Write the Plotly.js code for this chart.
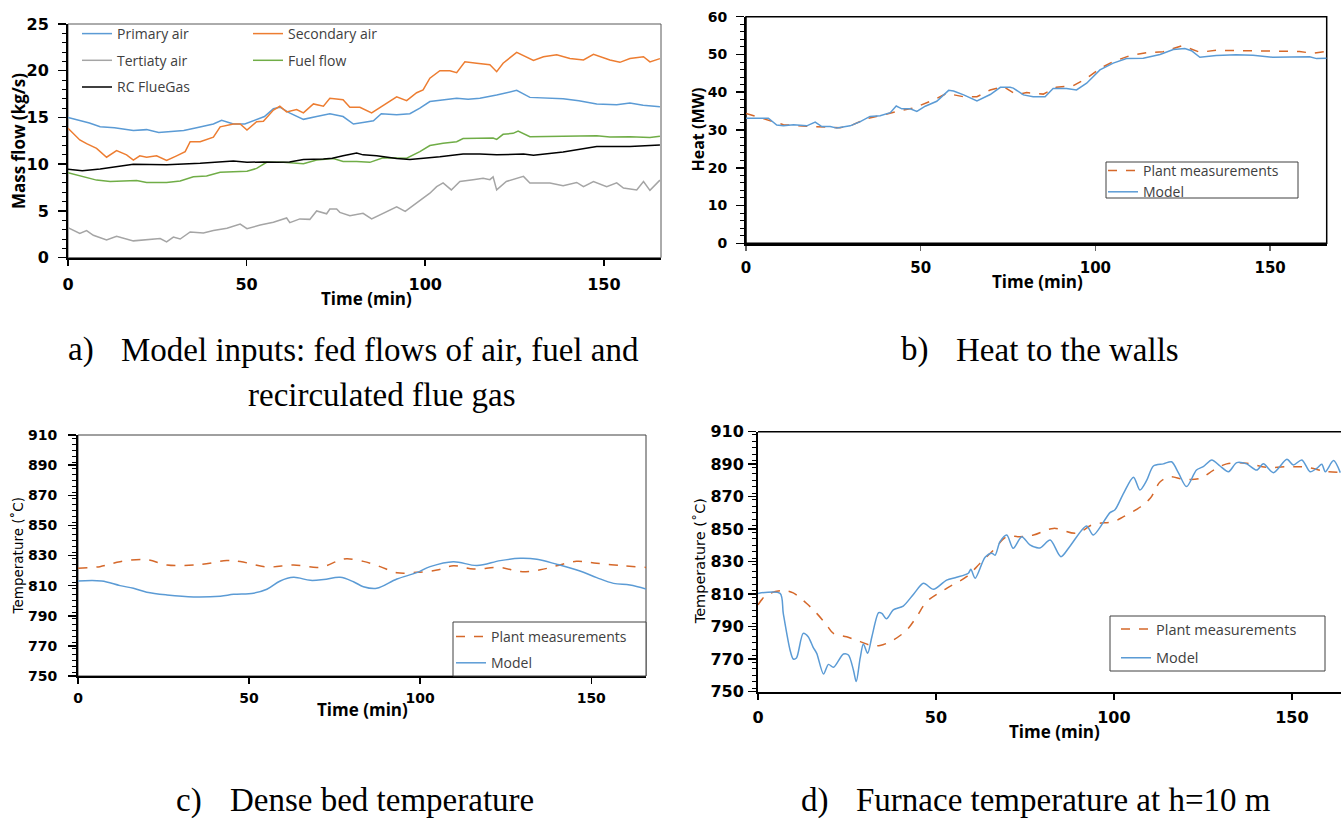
<!DOCTYPE html>
<html><head><meta charset="utf-8">
<script src="https://cdn.plot.ly/plotly-3.0.1.min.js"></script>
<style>html,body{margin:0;padding:0;background:#fff}#chart{width:1341px;height:820px}</style>
</head><body><div id="chart"></div>
<script>
// ---------- Panel a: model inputs (kg/s) ----------
const tPrimary = [0,3,6,9,13,18.3,22,25.4,28,32.4,36,40.7,43,46.3,49.5,52.8,55,57.5,59.3,62,65.9,69.6,73.3,77,79.9,83,85.5,87.7,92,95.7,98.5,101.3,105,108.8,112,115.3,120,123,125.6,129.3,134,138.6,143,148,153.6,157.3,161,165.7];
const primaryAir = [15.0,14.7,14.4,14.0,13.9,13.6,13.7,13.4,13.5,13.6,13.9,14.3,14.7,14.3,14.3,14.75,15.1,15.95,16.1,15.5,14.8,15.1,15.4,15.1,14.3,14.5,14.65,15.4,15.3,15.4,16.0,16.7,16.9,17.05,16.95,17.05,17.4,17.7,17.9,17.15,17.05,17.0,16.8,16.45,16.35,16.55,16.3,16.15];
const tSecondary = [0,3.3,5.2,8,10.8,13.6,16.4,18.3,20.1,22,24.8,27.6,30.4,32.8,34.2,37,40.7,42.6,46.3,48.2,50.1,52.8,54.7,57.5,59.3,61.2,64,65.9,68.7,71.5,73.3,77,78.9,81.7,85,88.2,92,94.8,97.6,99.4,101.3,104.1,106.9,108.8,111.1,114.4,118.1,120,121.8,125.6,128.4,130.3,133.1,136.8,140.5,144.3,147.1,151.7,154.5,157.3,161.1,162.9,165.7];
const secondaryAir = [13.85,12.6,12.2,11.7,10.75,11.45,11.0,10.45,10.9,10.75,10.9,10.4,10.9,11.35,12.4,12.4,12.9,14.0,14.3,14.3,13.65,14.55,14.6,15.8,16.2,15.6,15.85,15.5,16.45,16.2,17.05,16.9,16.1,16.1,15.5,16.3,17.2,16.8,17.65,17.95,19.2,20.0,20.0,19.8,20.95,20.8,20.65,19.9,20.8,21.97,21.5,21.1,21.5,21.7,21.3,21.15,21.75,21.15,20.9,21.3,21.5,20.95,21.3];
const tTertiary = [0,3.3,5.2,7.1,10.8,13.6,18.3,22,25.8,27.6,29.5,31.4,34.2,37.9,40.7,44.5,46.3,48.2,50.1,53.8,57.5,61.2,62.1,64.9,67.7,69.6,72.4,73.3,75.2,76.1,78.9,82.6,85,87.3,92,94.4,97.6,101.3,103.2,105,107.3,109.7,113.4,116.2,118.1,119,120,122.7,127.5,129.3,134.9,138.6,142.4,144.3,147.1,150.8,153.6,155.5,159.2,161.1,162.9,165.7];
const tertiaryAir = [3.2,2.6,2.9,2.4,1.9,2.3,1.8,1.95,2.05,1.7,2.2,2.0,2.75,2.65,2.9,3.15,3.35,3.6,3.1,3.5,3.8,4.25,3.75,4.15,4.1,5.0,4.7,5.2,5.2,4.85,4.5,4.75,4.15,4.6,5.45,4.95,5.85,6.9,7.6,8.0,7.25,8.15,8.35,8.5,8.35,8.65,7.25,8.15,8.7,8.0,8.0,7.7,8.05,7.6,8.15,7.6,8.0,7.45,7.25,8.15,7.2,8.3];
const tFuel = [0,4,8,11.8,19.2,22,27.6,31.4,35.1,38.8,42.6,46.3,50.1,52.8,55.6,60.3,65.9,69.6,74.3,77,80.8,84.5,88.2,94.8,98.5,101.3,105,108.8,110.6,119,120,121.8,124.6,126,129.3,138.6,148,151.7,157.3,162.9,165.7];
const fuelFlow = [9.1,8.7,8.3,8.15,8.25,8.05,8.05,8.2,8.65,8.75,9.15,9.2,9.25,9.55,10.2,10.2,10.05,10.45,10.6,10.3,10.3,10.2,10.7,10.65,11.35,12.0,12.25,12.4,12.75,12.8,12.65,13.2,13.3,13.55,12.95,13.0,13.05,12.9,12.95,12.85,13.0];
const tFlueGas = [0,4,9,14.6,18.3,27.6,37,46.3,50.1,54.7,58.5,62,65.9,71.5,74,77,80.8,82.6,86.4,92,95.7,104.1,110.6,115.3,120,127.5,130.3,138.6,148,157.3,165.7];
const rcFlueGas = [9.45,9.3,9.5,9.8,10.0,9.95,10.1,10.35,10.2,10.25,10.2,10.25,10.5,10.55,10.65,10.9,11.2,11.0,10.9,10.6,10.5,10.8,11.1,11.1,11.0,11.1,10.95,11.3,11.9,11.9,12.05];

// ---------- Panel b: heat to the walls (MW) ----------
const tHeatModel = [0,6.4,8.8,10.7,13.6,17.4,19.8,21.7,24.1,26,29.8,32.7,35.5,38.4,41.3,43,44.6,47,48.9,51.3,54.6,58,59.4,62.3,66.1,68,69.9,72.8,75.6,76.5,79.4,82.2,85.6,87.9,91.7,94.6,97.5,101.3,105.1,108.9,113.7,118.5,122.3,125.6,127.5,129.9,134.6,140.3,145.1,150.8,156.5,161.3,163.3,166.2];
const heatModel = [33.1,33.1,31.3,31.1,31.4,31.1,32.1,30.9,30.9,30.5,31.1,32.2,33.6,33.8,34.6,36.35,35.6,35.6,34.9,36.3,37.6,40.5,40.3,39.3,37.7,38.5,39.4,41.3,41.3,41.1,39.3,38.8,38.8,41.0,41.0,40.6,42.4,45.9,47.7,48.9,49.0,50.0,51.3,51.6,51.0,49.25,49.75,49.9,49.8,49.25,49.4,49.4,48.9,49.0];
const tHeatPlant = [0,6.4,10.7,17.4,23.1,26.9,29.8,34.5,38.4,43.1,47.9,53.6,57.4,62.3,66.1,69.9,73.7,77.5,80.3,85.1,88.8,93.6,97.5,101.3,105.1,109.9,114.7,119.4,122.3,124.7,127,129.9,134.6,144.1,153.7,158.4,162.2,166.2];
const heatPlant = [34.4,32.6,31.4,31.0,30.7,30.6,31.1,33.0,33.8,34.9,35.8,37.9,39.7,38.8,38.8,40.6,41.5,39.3,39.9,39.5,41.3,41.7,43.7,46.3,48.1,49.7,50.5,50.7,51.6,52.3,51.6,50.6,51.1,51.0,50.9,50.8,50.3,50.8];

// ---------- Panel c: dense bed temperature (°C) ----------
const tBedModel = [0,6.9,12.3,16.2,20.1,26,33.8,41.6,45.5,51.3,55.2,59.1,63,67.9,71.8,76.6,80.5,83.4,87.3,93.2,99,102.9,109.7,116.6,123.4,129.2,134.1,139.9,146.7,151.6,156.5,161.3,166];
const bedModel = [813.1,813.1,810.0,808.2,805.6,803.8,802.5,803,804.2,805,807.6,813.1,815.5,813.5,814,815.5,812.6,809.3,808.2,814.4,818.6,822.6,825.9,823.3,826.6,828.1,827.5,824.2,819.7,815.3,811.5,810.4,807.8];
const tBedPlant = [0,6.4,12.3,20.1,26,35.7,43.5,47.4,55.2,63,70.8,76.6,78.6,83.4,88.3,93.2,99,104.9,109.7,115.6,123.4,129.2,135.1,139.9,145.7,151.6,159.4,166];
const bedPlant = [821.5,822.6,825.9,827.3,823.7,824,826.6,826,822.4,823.7,822.2,827,827.9,826.1,822.6,818.6,818.8,820.3,823.2,821,822.1,819.3,820.5,823.2,826.1,824.8,823.2,822.1];

// ---------- Panel d: furnace temperature at h=10 m (°C) ----------
const tFurnModel = [0,6.2,7.1,9,9.9,10.8,12.7,14.1,15.5,16.5,18.4,19.8,21.2,24,25.4,26.8,27.6,28.7,29.6,30.8,32,33.9,34.8,36.1,38,40.8,43.7,46.5,49.3,53,55.8,59.1,59.8,61,63.8,65.7,66.6,68,69.9,71.7,74.1,76.4,79.2,82.1,85.1,87.6,92.3,94.2,98.9,100.3,102.7,105.5,107.3,109.2,111.1,113.9,116.2,118.1,120.4,123.2,125.1,127.5,129.8,132.2,134.5,137.3,140.1,142,144.8,148.6,150.4,152.8,155.1,157,158.4,159.4,161.7,163.6];
const furnModel = [810.5,810.5,798.2,775.7,770.1,770.7,785.9,783.8,777.3,773.6,760.9,766.8,765.0,773.2,772.6,763.4,756.2,770.6,779.4,773.6,783.8,798.6,798.2,794.9,800.3,802.7,810,816.7,813,818.7,820.4,822.9,825.3,819.8,832.7,835.2,834,842.3,846.4,838.2,845.4,840.3,838.5,843.3,833.1,839.4,852,846.4,860.2,862,872.1,882,874.1,880,888.9,890.2,891.5,884.8,876.2,886.4,888.5,892.6,888.9,885.4,891,890.2,886.4,890.2,884.8,893,889.5,892.6,885.4,887.5,890,885.4,892.2,884.8];
const tFurnPlant = [0,2.4,7.1,9.9,13.6,16.5,19.3,21.2,24.9,28.7,31.5,34.3,38,41.8,44.6,47.4,53,58.6,62.4,66.2,69.9,73.6,77.4,83,89.5,94.2,99.8,102.7,107.3,110.2,113,115.8,119.6,124.3,128,131.7,137.3,142.9,149.5,154.1,159.8,163.6];
const furnPlant = [803.4,809.5,812.2,810.8,804.4,798.2,791,785.9,783.8,780.8,778.7,778.5,781.8,788,796.2,805.4,813.6,820.8,829,837.2,845.4,845.4,846.4,850.5,847.5,853,854.6,857.7,863.5,869,879.2,882.3,880.7,881.3,886.4,890.2,890.6,888.1,888.5,888.1,885.4,885];

const legendLabels = {primary:'Primary air', secondary:'Secondary air', tertiary:'Tertiaty air', fuel:'Fuel flow', flue:'RC FlueGas', plant:'Plant measurements', model:'Model'};

// ---------- layout helpers ----------
const W = 1341, H = 820;
const px = v => v / W;
const py = v => 1 - v / H;

const cBlue = '#5B9BD5', cOrange = '#ED7D31', cGray = '#A5A5A5', cGreen = '#70AD47', cBlack = '#000000';
const cPlant = '#D5682A';

const data = [
  {x:tPrimary, y:primaryAir, name:legendLabels.primary, xaxis:'x', yaxis:'y', mode:'lines', line:{color:cBlue,width:1.5}, legend:'legend', legendgroup:'g1'},
  {x:tSecondary, y:secondaryAir, name:legendLabels.secondary, xaxis:'x', yaxis:'y', mode:'lines', line:{color:cOrange,width:1.5}, legend:'legend2', legendgroup:'g2'},
  {x:tTertiary, y:tertiaryAir, name:legendLabels.tertiary, xaxis:'x', yaxis:'y', mode:'lines', line:{color:cGray,width:1.5}, legend:'legend', legendgroup:'g3'},
  {x:tFuel, y:fuelFlow, name:legendLabels.fuel, xaxis:'x', yaxis:'y', mode:'lines', line:{color:cGreen,width:1.5}, legend:'legend2', legendgroup:'g4'},
  {x:tFlueGas, y:rcFlueGas, name:legendLabels.flue, xaxis:'x', yaxis:'y', mode:'lines', line:{color:cBlack,width:1.5}, legend:'legend', legendgroup:'g5'},

  {x:tHeatPlant, y:heatPlant, name:legendLabels.plant, xaxis:'x2', yaxis:'y2', mode:'lines', line:{color:cPlant,width:1.5,dash:'dash'}, legend:'legend3', legendgroup:'b1'},
  {x:tHeatModel, y:heatModel, name:legendLabels.model, xaxis:'x2', yaxis:'y2', mode:'lines', line:{color:cBlue,width:1.5}, legend:'legend3', legendgroup:'b2'},

  {x:tBedPlant, y:bedPlant, name:legendLabels.plant, xaxis:'x3', yaxis:'y3', mode:'lines', line:{color:cPlant,width:1.5,dash:'dash',shape:'spline',smoothing:1}, legend:'legend4', legendgroup:'c1'},
  {x:tBedModel, y:bedModel, name:legendLabels.model, xaxis:'x3', yaxis:'y3', mode:'lines', line:{color:cBlue,width:1.5,shape:'spline',smoothing:1}, legend:'legend4', legendgroup:'c2'},

  {x:tFurnPlant, y:furnPlant, name:legendLabels.plant, xaxis:'x4', yaxis:'y4', mode:'lines', line:{color:cPlant,width:1.5,dash:'dash',shape:'spline',smoothing:1}, legend:'legend5', legendgroup:'d1'},
  {x:tFurnModel, y:furnModel, name:legendLabels.model, xaxis:'x4', yaxis:'y4', mode:'lines', line:{color:cBlue,width:1.5,shape:'spline',smoothing:0.8}, legend:'legend5', legendgroup:'d2'}
];

const tickFontBold = (s) => ({family:'DejaVu Sans', size:s, color:'#000', weight:'bold'});

function xAx(domain, range, anchor, opts) {
  return Object.assign({
    domain: domain, range: range, anchor: anchor,
    tickvals:[0,50,100,150], showgrid:false, zeroline:false,
    showline:true, linecolor:'#000', linewidth:2,
    ticks:'outside', ticklen:6, tickcolor:'#000', tickwidth:1.5,
    tickfont: tickFontBold(16), ticklabelstandoff: 5, fixedrange:true
  }, opts || {});
}
function yAx(domain, range, anchor, dtick, minor, opts) {
  return Object.assign({
    domain: domain, range: range, anchor: anchor, dtick: dtick, tick0: range[0],
    showgrid:false, zeroline:false,
    showline:true, linecolor:'#000', linewidth:2,
    ticks:'outside', ticklen:8, tickcolor:'#000', tickwidth:1.5,
    minor:{dtick:minor, ticks:'outside', ticklen:4, tickcolor:'#000', tickwidth:1, showgrid:false},
    tickfont: tickFontBold(16), ticklabelstandoff: 6, fixedrange:true
  }, opts || {});
}

const legFont = (s) => ({family:'Open Sans', size:s, color:'#404040'});
const legBase = {xanchor:'left', yanchor:'top', bgcolor:'rgba(0,0,0,0)', borderwidth:0, traceorder:'grouped'};

const layout = {
  width: W, height: H,
  margin:{l:0,r:0,t:0,b:0},
  paper_bgcolor:'#fff', plot_bgcolor:'rgba(0,0,0,0)',
  showlegend:true,
  xaxis:  xAx([px(68), px(661)], [0,166], 'y'),
  yaxis:  yAx([py(257.7), py(24)], [0,25], 'x', 5, 1),
  xaxis2: xAx([px(746), px(1326.7)], [0,166.2], 'y2', {linewidth:3, tickcolor:'#666', ticklen:5, tickfont: tickFontBold(15), ticklabelstandoff:4}),
  yaxis2: yAx([py(243.3), py(16.7)], [0,60], 'x2', 10, 2, {tickfont: tickFontBold(14)}),
  xaxis3: xAx([px(78), px(646)], [0,166], 'y3', {tickfont: tickFontBold(14), ticklabelstandoff:2}),
  yaxis3: yAx([py(676), py(435)], [750,910], 'x3', 20, 4, {tickfont: tickFontBold(14), ticklabelstandoff:8}),
  xaxis4: xAx([px(758), 1], [0,163.8], 'y4', {tickfont: tickFontBold(16), ticklabelstandoff:4}),
  yaxis4: yAx([py(691.7), py(431.7)], [750,910], 'x4', 20, 4, {tickfont: tickFontBold(16), ticklabelstandoff:1}),

  legend:  Object.assign({}, legBase, {x:px(77), y:py(18), font:legFont(14), tracegroupgap:5.5}),
  legend2: Object.assign({}, legBase, {x:px(248), y:py(18), font:legFont(14), tracegroupgap:5.5}),
  legend3: Object.assign({}, legBase, {x:px(1103), y:py(155), font:legFont(14), tracegroupgap:0}),
  legend4: Object.assign({}, legBase, {x:px(451), y:py(621), font:legFont(14), tracegroupgap:5}),
  legend5: Object.assign({}, legBase, {x:px(1116), y:py(613), font:legFont(14.5), tracegroupgap:7}),

  shapes: [
    {type:'rect', xref:'x domain', yref:'y domain', x0:0, x1:1, y0:0, y1:1, line:{color:'#595959', width:1}, layer:'below'},
    {type:'rect', xref:'x2 domain', yref:'y2 domain', x0:0, x1:1, y0:0, y1:1, line:{color:'#000', width:1.5}, layer:'below'},
    {type:'rect', xref:'x3 domain', yref:'y3 domain', x0:0, x1:1, y0:0, y1:1, line:{color:'#404040', width:1}, layer:'below'},
    {type:'line', xref:'x4 domain', yref:'y4 domain', x0:0, x1:1, y0:1, y1:1, line:{color:'#000', width:1.5}, layer:'below'},
    // legend frames
    {type:'rect', xref:'paper', yref:'paper', x0:px(1106), x1:px(1298), y0:py(198), y1:py(162), line:{color:'#404040', width:1}, fillcolor:'#fff', layer:'above'},
    {type:'rect', xref:'paper', yref:'paper', x0:px(453), x1:px(646), y0:py(676), y1:py(622), line:{color:'#404040', width:1}, fillcolor:'#fff', layer:'above'},
    {type:'rect', xref:'paper', yref:'paper', x0:px(1110), x1:px(1325), y0:py(671), y1:py(616), line:{color:'#404040', width:1}, fillcolor:'#fff', layer:'above'}
  ],
  annotations: []
};

const boldTitle = {family:'Open Sans', size:17, color:'#000', weight:'bold'};
const ann = layout.annotations;
function addAnn(text, x, y, font, extra) {
  ann.push(Object.assign({text:text, x:px(x), y:py(y), xref:'paper', yref:'paper', showarrow:false, font:font, xanchor:'center', yanchor:'middle'}, extra || {}));
}
// axis titles
addAnn('Mass flow (kg/s)', 19, 141, boldTitle, {textangle:-90});
addAnn('Time (min)', 366, 298, boldTitle);
addAnn('Heat (MW)', 697.5, 130, Object.assign({}, boldTitle, {size:16}), {textangle:-90});
addAnn('Time (min)', 1037, 281, boldTitle);
addAnn('Temperature (˚C)', 17, 555.5, {family:'DejaVu Sans', size:13.5, color:'#000'}, {textangle:-90});
addAnn('Time (min)', 362, 709, boldTitle);
addAnn('Temperature (˚C)', 699.5, 561.7, {family:'DejaVu Sans', size:14.5, color:'#000'}, {textangle:-90});
addAnn('Time (min)', 1054, 731, boldTitle);

// captions
const capFont = {family:'Liberation Serif', size:33, color:'#000'};
addAnn('a)', 66, 350, capFont, {xanchor:'left'});
addAnn('Model inputs: fed flows of air, fuel and', 119, 350, capFont, {xanchor:'left'});
addAnn('recirculated flue gas', 382, 395, capFont);
addAnn('b)', 899, 350, capFont, {xanchor:'left'});
addAnn('Heat to the walls', 954, 350, capFont, {xanchor:'left'});
addAnn('c)', 174, 800, capFont, {xanchor:'left'});
addAnn('Dense bed temperature', 228, 800, capFont, {xanchor:'left'});
addAnn('d)', 799, 800, capFont, {xanchor:'left'});
addAnn('Furnace temperature at h=10 m', 854, 800, capFont, {xanchor:'left'});

Plotly.newPlot('chart', data, layout, {displayModeBar:false, staticPlot:true});
</script></body></html>
